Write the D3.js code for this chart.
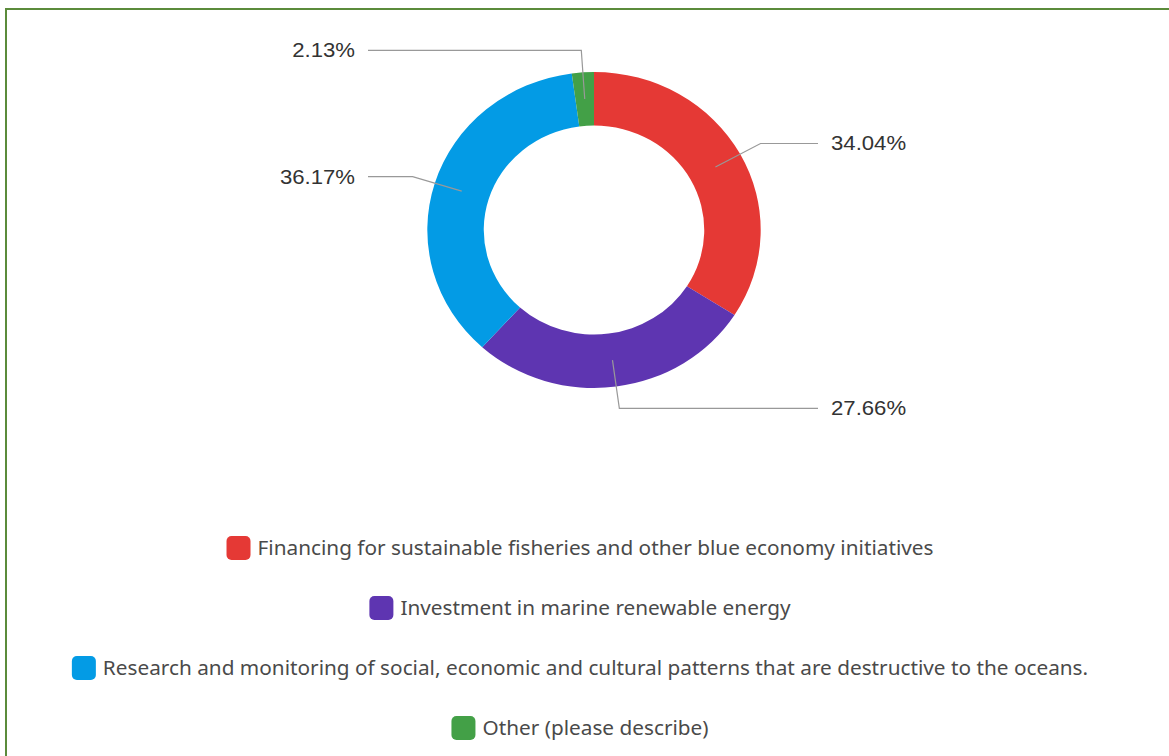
<!DOCTYPE html>
<html>
<head>
<meta charset="utf-8">
<script src="https://cdn.jsdelivr.net/npm/d3@7"></script>
<style>
  html, body { margin: 0; padding: 0; background: #fff; }
  svg { display: block; }
</style>
</head>
<body>
<svg id="chart" width="1169" height="756"></svg>
<script>
// Survey answer shares (percent), drawn clockwise from 12 o'clock
const categories = [
  "Financing for sustainable fisheries and other blue economy initiatives",
  "Investment in marine renewable energy",
  "Research and monitoring of social, economic and cultural patterns that are destructive to the oceans.",
  "Other (please describe)"
];
const shares = [34.04, 27.66, 36.17, 2.13];
const shareLabels = ["34.04%", "27.66%", "36.17%", "2.13%"];
const colors = ["#e53935", "#5e35b1", "#039be5", "#43a047"];

const svg = d3.select("#chart");
const W = 1169, H = 756;

// Panel frame (top and left edges visible)
svg.append("path")
  .attr("d", `M6,${H} L6,9 L${W},9`)
  .attr("fill", "none")
  .attr("stroke", "#5b8b3b")
  .attr("stroke-width", 2);

// Whole drawing is slightly stretched horizontally
const sx = 1.055;

// Donut geometry
const cx = 594, cy = 230;
const rOuter = 158, rInner = 104.5, rElbow = 180;

const pie = d3.pie().sort(null).value(d => d);
const arcs = pie(shares);
const arc = d3.arc().innerRadius(rInner).outerRadius(rOuter);

const donut = svg.append("g")
  .attr("transform", `translate(${cx},${cy}) scale(${sx},1)`);

donut.selectAll("path")
  .data(arcs)
  .join("path")
  .attr("d", arc)
  .attr("fill", (d, i) => colors[i]);

// Point on the stretched donut at a given angle and radius
function pt(angle, r) {
  return [cx + Math.sin(angle) * r * sx, cy - Math.cos(angle) * r];
}

const leftX = 368, rightX = 818;
const labelLayer = svg.append("g");

arcs.forEach((a, i) => {
  const mid = (a.startAngle + a.endAngle) / 2;
  const p0 = pt(mid, (rInner + rOuter) / 2);
  const p1 = pt(mid, rElbow);
  const right = Math.sin(mid) > 0;
  const p2 = [right ? rightX : leftX, p1[1]];
  labelLayer.append("polyline")
    .attr("points", [p0, p1, p2].map(p => p.join(",")).join(" "))
    .attr("fill", "none")
    .attr("stroke", "#999")
    .attr("stroke-width", 1.2);
  const tx = right ? p2[0] + 13 : p2[0] - 13;
  labelLayer.append("text")
    .attr("transform", `translate(${tx},${p2[1] - 0.5}) scale(${sx},1)`)
    .attr("dy", "0.35em")
    .attr("text-anchor", right ? "start" : "end")
    .attr("font-family", "'Liberation Sans', Arial, sans-serif")
    .attr("font-size", 21)
    .attr("fill", "#333")
    .text(shareLabels[i]);
});

// Legend: one centred row per category
const legendCenter = 580, legendTop = 548, legendStep = 60, sw = 24, gap = 7;
const legend = svg.append("g");
categories.forEach((c, i) => {
  const row = legend.append("g");
  const y = legendTop + i * legendStep;
  const t = row.append("text")
    .attr("transform", `translate(${sw + gap},${y}) scale(${sx},1)`)
    .attr("dy", "0.35em")
    .attr("font-family", "'Noto Sans', 'Open Sans', sans-serif")
    .attr("font-size", 19.7)
    .attr("fill", "#4a4a4a")
    .text(c);
  row.append("rect")
    .attr("x", 0)
    .attr("y", y - sw / 2)
    .attr("width", sw)
    .attr("height", sw)
    .attr("rx", 5)
    .attr("fill", colors[i]);
  const total = sw + gap + t.node().getComputedTextLength() * sx;
  row.attr("transform", `translate(${legendCenter - total / 2},0)`);
});
</script>
</body>
</html>
